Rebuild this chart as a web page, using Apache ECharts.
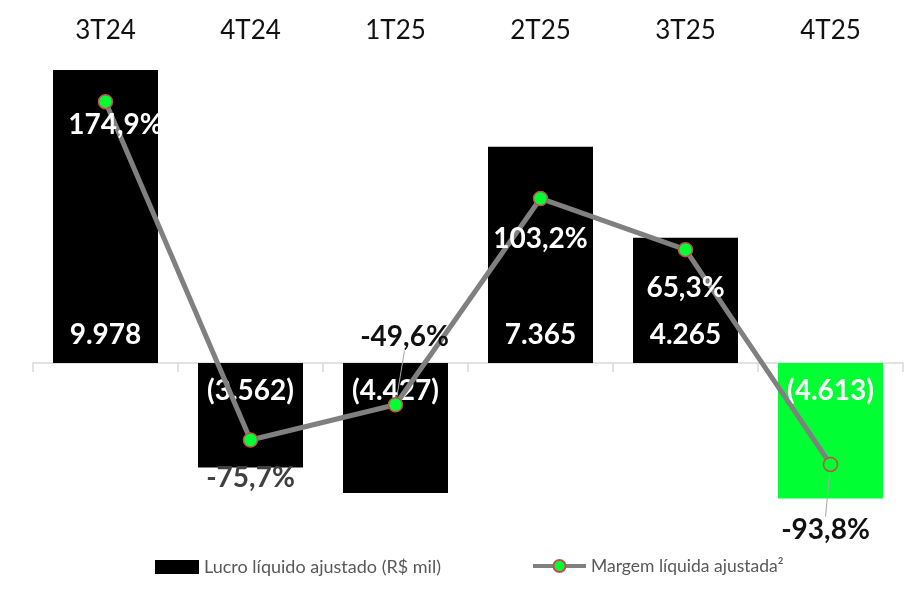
<!DOCTYPE html>
<html>
<head>
<meta charset="utf-8">
<script src="https://cdn.jsdelivr.net/npm/echarts@6/dist/echarts.min.js"></script>
<style>
html,body{margin:0;padding:0;background:#fff;}
#chart{width:911px;height:605px;}
</style>
</head>
<body>
<div id="chart"></div>
<script>
const categories = ['3T24', '4T24', '1T25', '2T25', '3T25', '4T25'];
const lucro = [9978, -3562, -4427, 7365, 4265, -4613];
const margem = [174.9, -75.7, -49.6, 103.2, 65.3, -93.8];

// styles (kept apart from the data)
const barColors = ['#000000', '#000000', '#000000', '#000000', '#000000', '#00ff33'];
const margemLabelColors = ['#ffffff', '#404040', '#111111', '#ffffff', '#ffffff', '#111111'];
const margemLabelShift = [[10, 23], [0, 38], [9, -68], [0, 40], [0, 38], [-5, 66]];
const margemLeader = [false, false, true, false, false, true];

const FONT = 'Lato';

function fmtMil(v) {
  const s = Math.abs(v).toString().replace(/\B(?=(\d{3})+(?!\d))/g, '.');
  return v < 0 ? '(' + s + ')' : s;
}
function fmtPct(v) {
  return v.toFixed(1).replace('.', ',') + '%';
}

const chart = echarts.init(document.getElementById('chart'), null, {renderer: 'canvas'});

const option = {
  animation: false,
  backgroundColor: '#ffffff',
  textStyle: {fontFamily: FONT},
  grid: {left: 33, right: 8, top: 40, bottom: 75, containLabel: false},
  xAxis: [
    {
      type: 'category',
      data: categories,
      position: 'bottom',
      axisLine: {onZero: true, lineStyle: {color: '#d9d9d9', width: 1.5}},
      axisTick: {show: true, length: 9, lineStyle: {color: '#d9d9d9', width: 1.5}},
      axisLabel: {show: false},
      splitLine: {show: false}
    },
    {
      type: 'category',
      data: categories,
      position: 'top',
      axisLine: {show: false},
      axisTick: {show: false},
      axisLabel: {show: true, color: '#111111', fontFamily: FONT, fontSize: 26, margin: -4},
      splitLine: {show: false}
    }
  ],
  yAxis: [
    {type: 'value', min: -5686, max: 10997, show: false, splitLine: {show: false}},
    {type: 'value', min: -142.4, max: 220.6, show: false, splitLine: {show: false}}
  ],
  legend: [
    {
      data: ['Lucro líquido ajustado (R$ mil)'],
      left: 150, top: 553,
      itemWidth: 44, itemHeight: 14,
      icon: 'rect',
      textStyle: {color: '#595959', fontFamily: FONT, fontSize: 18}
    },
    {
      data: ['Margem líquida ajustada²'],
      left: 526, top: 552,
      itemWidth: 53, itemHeight: 15,
      lineStyle: {width: 4},
      textStyle: {color: '#595959', fontFamily: FONT, fontSize: 17.5}
    }
  ],
  series: [
    {
      name: 'Lucro líquido ajustado (R$ mil)',
      type: 'bar',
      xAxisIndex: 0,
      yAxisIndex: 0,
      barWidth: 105,
      itemStyle: {color: '#000000'},
      data: lucro.map((v, i) => ({
        value: v,
        itemStyle: {color: barColors[i]},
        label: {position: v >= 0 ? 'insideBottom' : 'insideTop'}
      })),
      label: {
        show: true,
        distance: 14,
        color: '#ffffff',
        fontFamily: FONT,
        fontWeight: 'bold',
        fontSize: 28,
        formatter: p => fmtMil(p.value)
      },
      z: 2
    },
    {
      name: 'Margem líquida ajustada²',
      type: 'line',
      xAxisIndex: 0,
      yAxisIndex: 1,
      symbol: 'circle',
      symbolSize: 14,
      lineStyle: {color: '#808080', width: 5},
      itemStyle: {color: '#00ff33', borderColor: '#c0504d', borderWidth: 1.5},
      data: margem.map((v, i) => ({
        value: v,
        label: {color: margemLabelColors[i]},
        labelLine: {show: margemLeader[i], lineStyle: {color: '#a6a6a6', width: 1}}
      })),
      label: {
        show: true,
        position: 'inside',
        fontFamily: FONT,
        fontWeight: 'bold',
        fontSize: 28,
        formatter: p => fmtPct(p.value)
      },
      labelLayout: function (params) {
        const s = margemLabelShift[params.dataIndex];
        return {dx: s[0], dy: s[1]};
      },
      z: 3
    }
  ]
};

chart.setOption(option);
</script>
</body>
</html>
